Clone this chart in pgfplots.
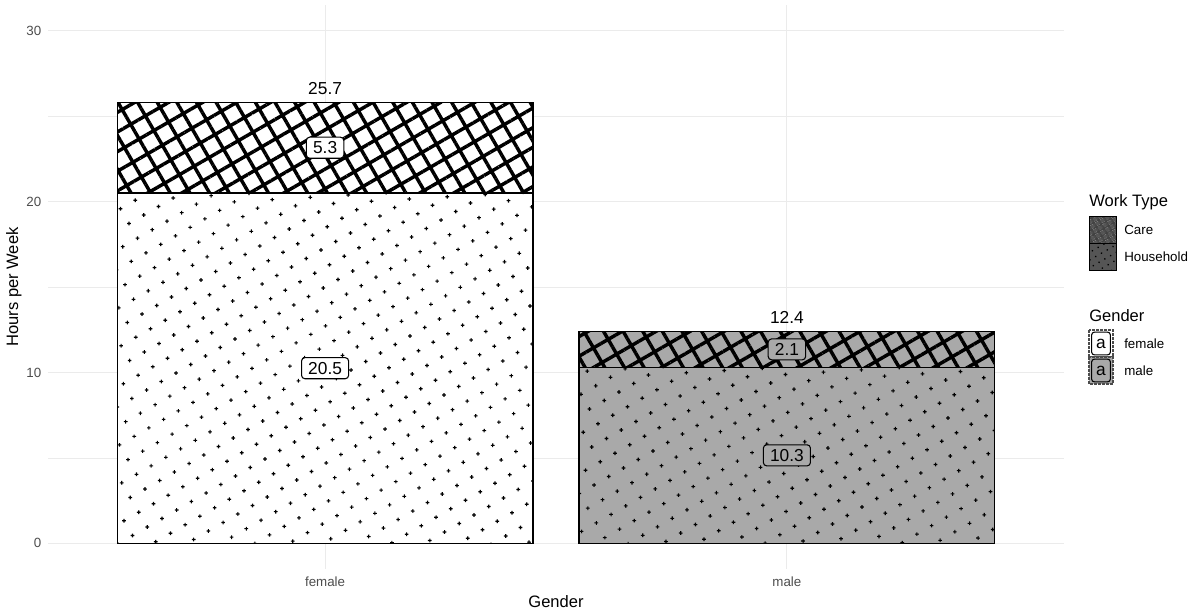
\documentclass[border=0pt]{standalone}
\usepackage{pgfplots}
\pgfplotsset{compat=1.18}
\usepackage{fontspec}
\setmainfont{Liberation Sans}
\usetikzlibrary{patterns.meta}

\definecolor{gridgrey}{HTML}{EBEBEB}
\definecolor{ticktext}{HTML}{4D4D4D}
\definecolor{malegrey}{HTML}{A9A9A9}
\definecolor{keygrey}{HTML}{555555}

% small upright plus signs on a square lattice turned by 30 degrees
\pgfdeclarepattern{
  name=PlusGrid,
  type=uncolored,
  bottom left={\pgfpoint{-6.375pt}{-6.375pt}},
  top right={\pgfpoint{6.375pt}{6.375pt}},
  tile size={\pgfpoint{12.75pt}{12.75pt}},
  tile transformation={\pgftransformrotate{30}},
  code={
    \pgfsetlinewidth{0.85pt}
    \pgfpathmoveto{\pgfpoint{-1.2pt}{0.7pt}}\pgfpathlineto{\pgfpoint{1.2pt}{-0.7pt}}
    \pgfpathmoveto{\pgfpoint{-0.7pt}{-1.2pt}}\pgfpathlineto{\pgfpoint{0.7pt}{1.2pt}}
    \pgfusepath{stroke}
  }
}

\tikzset{
  valuelabel/.style={draw=black, line width=0.8pt, rounded corners=2.5pt,
    inner xsep=5pt, inner ysep=3.3pt, font=\fontsize{13}{15}\selectfont},
  care/.style={draw=black, line width=0.9pt,
    postaction={pattern={Hatch[angle=30,distance=12.75pt,line width=2.6pt]}, pattern color=black}},
  household/.style={draw=black, line width=0.9pt,
    postaction={pattern=PlusGrid, pattern color=black}},
}

\begin{document}
\begin{tikzpicture}
\useasboundingbox (0,0) rectangle (894pt,459pt);

\begin{axis}[
  at={(36pt,32.25pt)}, anchor=south west,
  scale only axis, width=762pt, height=423pt,
  xmin=-0.6, xmax=1.6, ymin=-1.5, ymax=31.5,
  enlargelimits=false,
  axis line style={draw=none},
  ybar stacked, bar width=0.9,
  xtick={0,1}, xticklabels={female,male},
  ytick={0,10,20,30}, minor ytick={5,15,25},
  major tick length=0pt, minor tick length=0pt,
  tick style={draw=none},
  xmajorgrids, ymajorgrids, yminorgrids,
  major grid style={gridgrey, line width=0.8pt},
  minor grid style={gridgrey, line width=0.5pt},
  ticklabel style={font=\fontsize{10}{12}\selectfont, text=ticktext},
  /pgf/number format/assume math mode=true,
  xticklabel style={yshift=-2pt},
  yticklabel style={xshift=-1.5pt},
  xlabel={Gender}, ylabel={Hours per Week},
  label style={font=\fontsize{12.4}{14}\selectfont},
  xlabel style={at={(axis description cs:0.5,-0.0585)}, anchor=center},
  ylabel style={at={(axis description cs:-0.0335,0.5)}, anchor=center},
  clip=false,
]
% Household (bottom), then Care (top), one series per gender
\addplot[household, fill=white]    coordinates {(0,20.5) (1,0)};
\addplot[household, fill=malegrey] coordinates {(0,0) (1,10.3)};
\addplot[care, fill=white]         coordinates {(0,5.3) (1,0)};
\addplot[care, fill=malegrey]      coordinates {(0,0) (1,2.1)};

% label positions (drawn after the bars, below)
\coordinate (fH) at (axis cs:0,10.25);
\coordinate (fC) at (axis cs:0,23.15);
\coordinate (mH) at (axis cs:1,5.15);
\coordinate (mC) at (axis cs:1,11.35);
\coordinate (fT) at (axis cs:0,25.8);
\coordinate (mT) at (axis cs:1,12.4);
\end{axis}

% segment values
\node[valuelabel, fill=white]    at (fH) {20.5};
\node[valuelabel, fill=white]    at (fC) {5.3};
\node[valuelabel, fill=malegrey] at (mH) {10.3};
\node[valuelabel, fill=malegrey] at (mC) {2.1};
% totals
\node[font=\fontsize{13}{15}\selectfont, yshift=10.5pt] at (fT) {25.7};
\node[font=\fontsize{13}{15}\selectfont, yshift=10.5pt] at (mT) {12.4};

% legends
\begin{scope}[x=0.75pt, y=-0.75pt, shift={(0pt,459pt)}]
  \node[anchor=west, inner sep=0, font=\fontsize{12.4}{14}\selectfont] at (1089,202) {Work Type};
  \path[fill=keygrey, draw=black, line width=0.5pt] (1089,216) rectangle (1116,243);
  \path[pattern={Hatch[angle=30,distance=4pt,line width=0.9pt]}, pattern color=black!75] (1089,216) rectangle (1116,243);
  \path[fill=keygrey, draw=black, line width=0.5pt] (1089,243) rectangle (1116,270);
  \path[pattern={Dots[angle=30,distance=5pt,radius=0.7pt]}, pattern color=black] (1089,243) rectangle (1116,270);
  \draw[black, line width=0.5pt] (1089,216) rectangle (1116,270);
  \node[anchor=west, inner sep=0, font=\fontsize{10}{12}\selectfont] at (1124,230) {Care};
  \node[anchor=west, inner sep=0, font=\fontsize{10}{12}\selectfont] at (1124,257) {Household};

  \node[anchor=west, inner sep=0, font=\fontsize{12.4}{14}\selectfont] at (1089,316) {Gender};
  \path[fill=white, draw=black!70, line width=1.2pt, dash pattern=on 2pt off 1pt] (1089,330) rectangle (1113,357);
  \path[fill=malegrey, draw=black!70, line width=1.2pt, dash pattern=on 2pt off 1pt] (1089,357) rectangle (1113,384);
  \node[draw=black, fill=white, rounded corners=2pt, line width=0.8pt, minimum width=14pt, minimum height=17pt, inner sep=0, font=\fontsize{13}{15}\selectfont] at (1101,343.5) {a};
  \node[draw=black, fill=malegrey, rounded corners=2pt, line width=0.8pt, minimum width=14pt, minimum height=17pt, inner sep=0, font=\fontsize{13}{15}\selectfont] at (1101,370.5) {a};
  \node[anchor=west, inner sep=0, font=\fontsize{10}{12}\selectfont] at (1124,344) {female};
  \node[anchor=west, inner sep=0, font=\fontsize{10}{12}\selectfont] at (1124,371) {male};
\end{scope}
\end{tikzpicture}
\end{document}
